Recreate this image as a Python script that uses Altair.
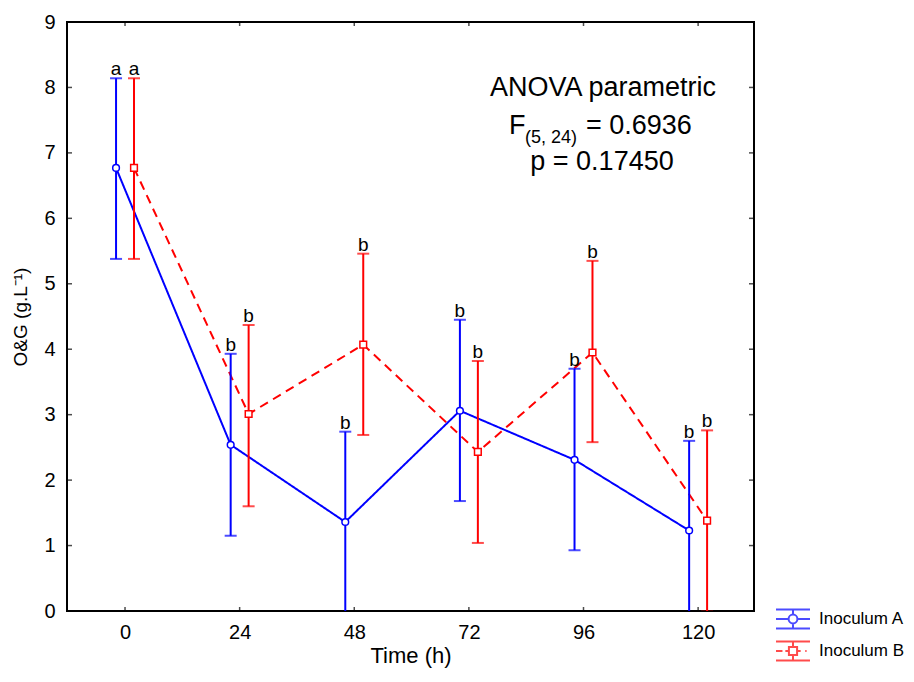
import altair as alt
import pandas as pd

# ---------------- data ----------------
times = [0, 24, 48, 72, 96, 120]
series_names = ["Inoculum A", "Inoculum B"]

a_mean = [6.77, 2.54, 1.36, 3.06, 2.31, 1.23]
a_low = [5.38, 1.15, -0.02, 1.68, 0.93, -0.15]
a_high = [8.14, 3.93, 2.74, 4.45, 3.70, 2.60]
a_letter = ["a", "b", "b", "b", "b", "b"]

b_mean = [6.77, 3.01, 4.07, 2.43, 3.95, 1.38]
b_low = [5.38, 1.60, 2.69, 1.04, 2.58, -0.01]
b_high = [8.14, 4.37, 5.46, 3.82, 5.35, 2.76]
b_letter = ["a", "b", "b", "b", "b", "b"]

x_ticks = [0, 24, 48, 72, 96, 120]
y_ticks = [0, 1, 2, 3, 4, 5, 6, 7, 8, 9]

anova_title = ["ANOVA parametric"]
anova_f = ["F"]
anova_f_sub = ["(5, 24)"]
anova_f_val = ["= 0.6936"]
anova_p = ["p = 0.17450"]

colors = ["#0000FF", "#FF0000"]
FONT = "Liberation Sans"

rows = []
for name, m, lo, hi, let in [
    (series_names[0], a_mean, a_low, a_high, a_letter),
    (series_names[1], b_mean, b_low, b_high, b_letter),
]:
    for t, mv, l, h, s in zip(times, m, lo, hi, let):
        rows.append({"t": t, "series": name, "mean": mv, "low": l, "high": h, "letter": s})
df = pd.DataFrame(rows)

W, H = 687, 589
xscale = alt.Scale(domain=[-12.15, 131.7], nice=False, zero=False)
yscale = alt.Scale(domain=[0, 9], nice=False, zero=False)
cscale = alt.Scale(domain=series_names, range=colors)

base = alt.Chart(df).transform_calculate(
    xp="datum.t + (datum.series == 'Inoculum A' ? -1.88 : 1.88)"
)

xenc = alt.X("xp:Q", scale=xscale, axis=alt.Axis(
    values=x_ticks, format="d", ticks=False, tickSize=0, domain=False, grid=False,
    labelFontSize=20, labelPadding=11, title="Time (h)", titleFontSize=22,
    titleFontWeight="normal", titlePadding=3, labelColor="black", titleColor="black"))
color_nolegend = alt.Color("series:N", scale=cscale, legend=None)

lines = base.mark_line(strokeWidth=2).encode(
    x=xenc,
    y=alt.Y("mean:Q", scale=yscale, axis=alt.Axis(
        values=y_ticks, format="d", ticks=False, tickSize=0, domain=False, grid=False,
        labelFontSize=20, labelPadding=12, title="O&G (g.L⁻¹)", titleFontSize=19,
        titleFontWeight="normal", titlePadding=13, labelColor="black", titleColor="black")),
    color=color_nolegend,
    strokeDash=alt.StrokeDash("series:N", scale=alt.Scale(domain=series_names, range=[[1, 0], [9, 6]]), legend=None),
    order="t:Q",
)

rules = base.mark_rule(strokeWidth=2, clip=True).encode(
    x="xp:Q", y="low:Q", y2="high:Q", color=color_nolegend)
caps_hi = base.mark_tick(orient="horizontal", size=12, thickness=2, clip=True).encode(
    x="xp:Q", y="high:Q", color=color_nolegend)
caps_lo = base.mark_tick(orient="horizontal", size=12, thickness=2, clip=True).encode(
    x="xp:Q", y="low:Q", color=color_nolegend)

points = base.mark_point(filled=False, fill="white", strokeWidth=1.5, size=45, opacity=1).encode(
    x="xp:Q", y="mean:Q", color=color_nolegend,
    shape=alt.Shape("series:N", scale=alt.Scale(domain=series_names, range=["circle", "square"]), legend=None),
)

letters = base.mark_text(fontSize=19, baseline="bottom", dy=1, font=FONT, color="black").encode(
    x="xp:Q", y="high:Q", text="letter:N")

# legend glyphs (error-bar style symbols)
glyph_a = ("M-1,-0.56H1M-1,0.56H1M0,-0.56V-0.26M0,0.26V0.56M-1,0H-0.26M0.26,0H1"
           "M0.26,0A0.26,0.26,0,1,1,-0.26,0A0.26,0.26,0,1,1,0.26,0Z")
glyph_b = ("M-1,-0.56H1M-1,0.56H1M0,-0.56V-0.24M0,0.24V0.56M-1,0H-0.62M-0.45,0H-0.24"
           "M0.24,0H0.45M0.72,0H0.8M-0.24,-0.24H0.24V0.24H-0.24Z")
leg = alt.Legend(orient="none", legendX=708, legendY=579, title=None, symbolSize=1156,
                 symbolStrokeWidth=2, labelFontSize=17, labelOffset=8, rowPadding=-5,
                 padding=0, labelFont=FONT, labelColor="black", symbolFillColor="white")
legend_layer = base.mark_point(clip=True, filled=False, strokeWidth=2).encode(
    x=alt.value(-60), y=alt.value(-60),
    color=alt.Color("series:N", scale=cscale, legend=leg),
    shape=alt.Shape("series:N", scale=alt.Scale(domain=series_names, range=[glyph_a, glyph_b]), legend=leg),
)

# inward ticks on all four sides
ydf = pd.DataFrame({"v": y_ticks})
xdf = pd.DataFrame({"v": x_ticks})
tk_left = alt.Chart(ydf).mark_tick(orient="horizontal", size=5, thickness=1.5, color="black").encode(
    y=alt.Y("v:Q", scale=yscale), x=alt.value(2.5))
tk_right = alt.Chart(ydf).mark_tick(orient="horizontal", size=5, thickness=1.5, color="black").encode(
    y=alt.Y("v:Q", scale=yscale), x=alt.value(W - 2.5))
tk_bottom = alt.Chart(xdf).mark_tick(orient="vertical", size=4, thickness=1.5, color="black").encode(
    x=alt.X("v:Q", scale=xscale), y=alt.value(H - 2))
tk_top = alt.Chart(xdf).mark_tick(orient="vertical", size=4, thickness=1.5, color="black").encode(
    x=alt.X("v:Q", scale=xscale), y=alt.value(2))

def label(txt, x, y, size, align="center"):
    return alt.Chart(pd.DataFrame({"s": txt})).mark_text(
        fontSize=size, font=FONT, color="black", align=align, baseline="alphabetic"
    ).encode(text="s:N", x=alt.value(x), y=alt.value(y))

ann = (label(anova_title, 536, 74, 27)
       + label(anova_f, 442, 112, 27, "left")
       + label(anova_f_sub, 458, 121, 18, "left")
       + label(anova_f_val, 519, 112, 27, "left")
       + label(anova_p, 535, 148, 27))

chart = alt.layer(
    lines, rules, caps_hi, caps_lo, points, letters, legend_layer,
    tk_left, tk_right, tk_bottom, tk_top, ann
).resolve_scale(shape="independent", color="independent").properties(
    width=W, height=H,
    autosize=alt.AutoSizeParams(type="none"),
    padding={"left": 59, "top": 14, "right": 152, "bottom": 58},
).configure(font=FONT).configure_view(stroke="black", strokeWidth=2)

chart.save("out.html", embed_options={"renderer": "svg", "actions": False})
